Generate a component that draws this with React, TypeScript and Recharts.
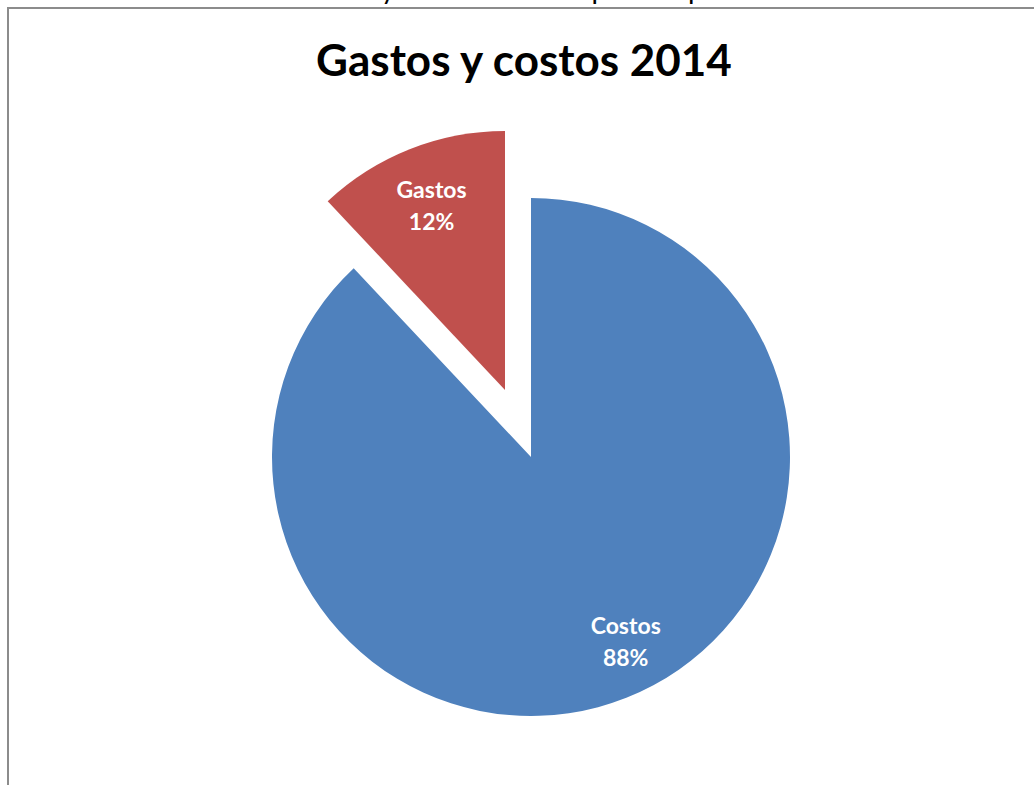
import React from "react";
import { PieChart, Pie, Cell } from "recharts";

const categories = ["Costos", "Gastos"];
const shares = [88, 12];
const colors = ["#4F81BD", "#C0504D"];
const title = "Gastos y costos 2014";
const caption = "Gráfico 1: Situación de Gastos y costos de la empresa Inpatsa durante el año 2014";

const data = categories.map((name, i) => ({ name, value: shares[i] }));

const RAD = Math.PI / 180;

// label drawn only for the slice that is visible in that ring
function makeLabel(visible: string, radiusFrac: number, angleShift: number) {
  return (props: any) => {
    const { cx, cy, midAngle, outerRadius, name, value } = props;
    if (name !== visible) return null;
    const r = outerRadius * radiusFrac;
    const a = (midAngle + angleShift) * RAD;
    const x = cx + r * Math.cos(-a);
    const y = cy + r * Math.sin(-a);
    return (
      <text
        x={x}
        y={y}
        fill="#ffffff"
        textAnchor="middle"
        fontFamily="Lato, 'Open Sans', sans-serif"
        fontWeight={700}
        fontSize={23}
      >
        <tspan x={x} dy={-7}>{name}</tspan>
        <tspan x={x} dy={32}>{value}%</tspan>
      </text>
    );
  };
}

export default function App() {
  const cx = 531;
  const cy = 457;
  const radius = 259;
  // Gastos slice pulled out along its bisector
  const explodeX = -26;
  const explodeY = -67;
  const margin = { top: 0, right: 0, bottom: 0, left: 0 };

  return (
    <div
      style={{
        position: "fixed",
        left: 0,
        top: 0,
        width: 1034,
        height: 785,
        overflow: "hidden",
        background: "#ffffff",
        fontFamily: "Lato, 'Open Sans', sans-serif",
      }}
    >
      <div
        style={{
          position: "absolute",
          left: 6,
          top: -27,
          whiteSpace: "nowrap",
          fontSize: 28,
          lineHeight: "30px",
          color: "#000",
        }}
      >
        {caption}
      </div>
      <div
        style={{
          position: "absolute",
          left: 7,
          top: 7,
          width: 1200,
          height: 900,
          borderLeft: "2px solid #8c8c8c",
          borderTop: "2px solid #8c8c8c",
        }}
      />
      <div
        style={{
          position: "absolute",
          left: 0,
          width: 1048,
          top: 33,
          textAlign: "center",
          fontSize: 44,
          fontWeight: 700,
          lineHeight: "52px",
          color: "#000",
        }}
      >
        {title}
      </div>
      <div style={{ position: "absolute", left: 0, top: 0 }}>
        <PieChart width={1034} height={785} margin={margin}>
          <Pie
            data={data}
            dataKey="value"
            nameKey="name"
            cx={cx}
            cy={cy}
            outerRadius={radius}
            startAngle={90}
            endAngle={-270}
            stroke="none"
            label={makeLabel("Costos", 0.8, 5.6)}
            labelLine={false}
            isAnimationActive={false}
          >
            {data.map((d, i) => (
              <Cell key={d.name} fill={d.name === "Costos" ? colors[i] : "transparent"} />
            ))}
          </Pie>
          <Pie
            data={data}
            dataKey="value"
            nameKey="name"
            cx={cx + explodeX}
            cy={cy + explodeY}
            outerRadius={radius}
            startAngle={90}
            endAngle={-270}
            stroke="none"
            label={makeLabel("Gastos", 0.77, 0)}
            labelLine={false}
            isAnimationActive={false}
          >
            {data.map((d, i) => (
              <Cell key={d.name} fill={d.name === "Gastos" ? colors[i] : "transparent"} />
            ))}
          </Pie>
        </PieChart>
      </div>
    </div>
  );
}
